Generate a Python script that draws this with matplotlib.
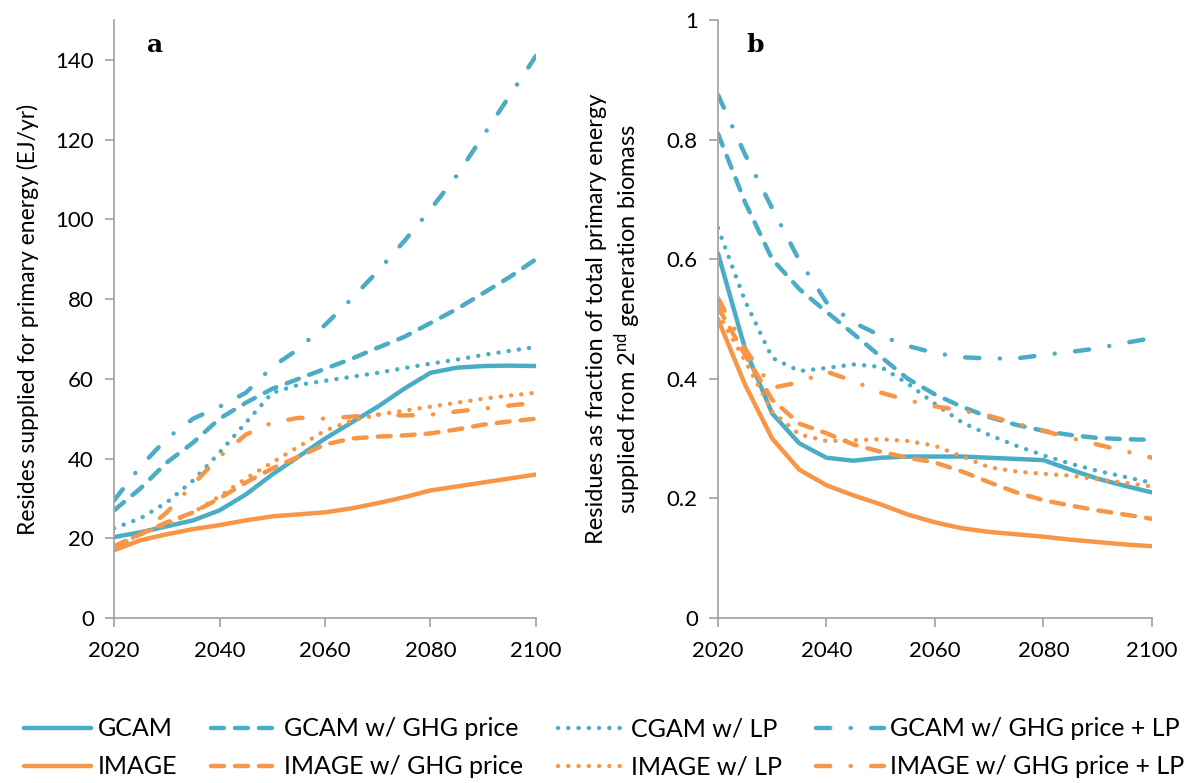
import matplotlib
matplotlib.use("Agg")
import matplotlib.pyplot as plt

# Données (pas de 5 ans)
years = list(range(2020, 2101, 5))

# Panneau a : résidus (EJ/an)
gcam_a = [20.3, 21.5, 23.0, 24.5, 27.0, 31.0, 36.0, 40.5, 45.0, 49.0, 53.0, 57.5, 61.5, 62.8, 63.2, 63.3, 63.2]
gcam_ghg_a = [27.0, 32.5, 39.0, 44.0, 50.0, 54.0, 57.5, 60.0, 62.5, 65.0, 67.8, 70.5, 74.0, 77.5, 81.5, 85.5, 90.0]
gcam_lp_a = [22.5, 25.0, 29.0, 34.5, 41.5, 49.0, 56.5, 58.5, 59.5, 60.5, 61.5, 62.7, 63.8, 64.8, 66.0, 67.0, 68.0]
gcam_ghg_lp_a = [29.5, 38.0, 45.0, 50.0, 53.0, 56.5, 63.0, 67.5, 73.5, 80.0, 87.0, 94.5, 102.5, 111.0, 121.0, 131.0, 141.0]
image_a = [17.0, 19.5, 21.0, 22.3, 23.3, 24.5, 25.5, 26.0, 26.5, 27.5, 28.8, 30.3, 32.0, 33.0, 34.0, 35.0, 36.0]
image_ghg_a = [18.0, 21.0, 24.0, 26.5, 30.0, 34.0, 37.5, 40.5, 43.5, 45.0, 45.5, 45.8, 46.3, 47.3, 48.5, 49.3, 50.0]
image_lp_a = [18.0, 21.0, 23.5, 26.5, 30.5, 35.0, 39.0, 43.0, 47.0, 49.5, 51.0, 52.0, 53.0, 54.0, 55.0, 55.8, 56.5]
image_ghg_lp_a = [17.5, 21.0, 26.5, 33.5, 40.5, 46.0, 49.0, 50.2, 50.0, 50.5, 51.0, 50.8, 51.0, 51.8, 52.5, 53.3, 54.0]

# Panneau b : fraction de l'énergie primaire issue de la biomasse 2G
gcam_b = [0.61, 0.45, 0.342, 0.292, 0.268, 0.263, 0.268, 0.27, 0.27, 0.27, 0.268, 0.266, 0.264, 0.248, 0.233, 0.221, 0.21]
gcam_ghg_b = [0.81, 0.695, 0.60, 0.55, 0.512, 0.475, 0.437, 0.40, 0.374, 0.353, 0.336, 0.323, 0.313, 0.306, 0.301, 0.299, 0.298]
gcam_lp_b = [0.652, 0.53, 0.435, 0.413, 0.418, 0.424, 0.42, 0.392, 0.358, 0.327, 0.306, 0.288, 0.272, 0.258, 0.246, 0.236, 0.226]
gcam_ghg_lp_b = [0.875, 0.775, 0.685, 0.598, 0.528, 0.494, 0.472, 0.455, 0.443, 0.436, 0.434, 0.434, 0.44, 0.445, 0.451, 0.46, 0.468]
image_b = [0.50, 0.39, 0.30, 0.248, 0.222, 0.205, 0.19, 0.173, 0.16, 0.15, 0.144, 0.14, 0.136, 0.131, 0.127, 0.123, 0.12]
image_ghg_b = [0.52, 0.44, 0.365, 0.325, 0.309, 0.29, 0.278, 0.268, 0.26, 0.245, 0.227, 0.21, 0.197, 0.188, 0.18, 0.173, 0.166]
image_lp_b = [0.51, 0.43, 0.345, 0.307, 0.296, 0.297, 0.299, 0.296, 0.288, 0.27, 0.252, 0.245, 0.241, 0.238, 0.232, 0.226, 0.22]
image_ghg_lp_b = [0.535, 0.45, 0.385, 0.394, 0.412, 0.396, 0.377, 0.364, 0.354, 0.347, 0.338, 0.325, 0.313, 0.301, 0.29, 0.279, 0.268]

labels = ["GCAM", "IMAGE", "GCAM w/ GHG price", "IMAGE w/ GHG price",
          "CGAM w/ LP", "IMAGE w/ LP", "GCAM w/ GHG price + LP", "IMAGE w/ GHG price + LP"]

BLUE = "#4BACC6"
ORANGE = "#F79646"
GREY = "#A6A6A6"
LW = 3.2

STYLES = {
    "solid": dict(linestyle="-", solid_capstyle="round"),
    "dash": dict(linestyle=(0, (2.9, 2.5)), dash_capstyle="round"),
    "dot": dict(linestyle=(0, (0.01, 2.3)), dash_capstyle="round"),
    "dashdot": dict(linestyle=(0, (3.2, 4.6, 0.01, 4.6)), dash_capstyle="round"),
}

plt.rcParams["font.family"] = ["Lato", "DejaVu Sans"]
plt.rcParams["mathtext.fontset"] = "custom"
plt.rcParams["mathtext.rm"] = "Lato"
plt.rcParams["mathtext.it"] = "Lato:italic"

fig = plt.figure(figsize=(11.94, 7.83), dpi=100)
ax_a = fig.add_axes([0.0955, 0.2107, 0.3534, 0.7638])
ax_b = fig.add_axes([0.6013, 0.2107, 0.3635, 0.7638])


def draw_panel(ax, series):
    handles = []
    for vals, color, style in series:
        line, = ax.plot(years, vals, color=color, lw=LW, **STYLES[style])
        handles.append(line)
    return handles


def style_axis(ax, ymax, yticks, yticklabels):
    ax.set_xlim(2020, 2100)
    ax.set_ylim(0, ymax)
    ax.set_xticks(range(2020, 2101, 20))
    ax.set_yticks(yticks)
    ax.set_yticklabels(yticklabels)
    for s in ["top", "right"]:
        ax.spines[s].set_visible(False)
    for s in ["left", "bottom"]:
        ax.spines[s].set_color(GREY)
        ax.spines[s].set_linewidth(1.3)
    ax.tick_params(direction="out", length=6.5, width=1.3, color=GREY, labelsize=16)
    ax.tick_params(axis="x", pad=10)
    ax.tick_params(axis="y", pad=8)


series_a = [
    (gcam_a, BLUE, "solid"), (image_a, ORANGE, "solid"),
    (gcam_ghg_a, BLUE, "dash"), (image_ghg_a, ORANGE, "dash"),
    (gcam_lp_a, BLUE, "dot"), (image_lp_a, ORANGE, "dot"),
    (gcam_ghg_lp_a, BLUE, "dashdot"), (image_ghg_lp_a, ORANGE, "dashdot"),
]
series_b = [
    (gcam_b, BLUE, "solid"), (image_b, ORANGE, "solid"),
    (gcam_ghg_b, BLUE, "dash"), (image_ghg_b, ORANGE, "dash"),
    (gcam_lp_b, BLUE, "dot"), (image_lp_b, ORANGE, "dot"),
    (gcam_ghg_lp_b, BLUE, "dashdot"), (image_ghg_lp_b, ORANGE, "dashdot"),
]

handles = draw_panel(ax_a, series_a)
draw_panel(ax_b, series_b)

style_axis(ax_a, 150, range(0, 141, 20), [str(v) for v in range(0, 141, 20)])
style_axis(ax_b, 1.0, [0, 0.2, 0.4, 0.6, 0.8, 1.0], ["0", "0.2", "0.4", "0.6", "0.8", "1"])

ax_a.set_ylabel("Resides supplied for primary energy (EJ/yr)", fontsize=16.5, labelpad=12)
ax_b.set_ylabel("Residues as fraction of total primary energy\n"
                "supplied from 2$^{\\mathrm{nd}}$ generation biomass",
                fontsize=17, labelpad=17, linespacing=1.25)

ax_a.text(0.097, 0.958, "a", transform=ax_a.transAxes, fontsize=18,
          fontweight="bold", family="DejaVu Serif", ha="center", va="center")
ax_b.text(0.085, 0.958, "b", transform=ax_b.transAxes, fontsize=18,
          fontweight="bold", family="DejaVu Serif", ha="center", va="center")

fig.legend(handles, labels, ncol=4, loc="lower left", bbox_to_anchor=(0.0201, 0.006),
           frameon=False, fontsize=18, handlelength=2.7, handletextpad=0.24,
           columnspacing=1.36, labelspacing=0.6, borderpad=0, borderaxespad=0)

fig.savefig("out.png", dpi=100)
